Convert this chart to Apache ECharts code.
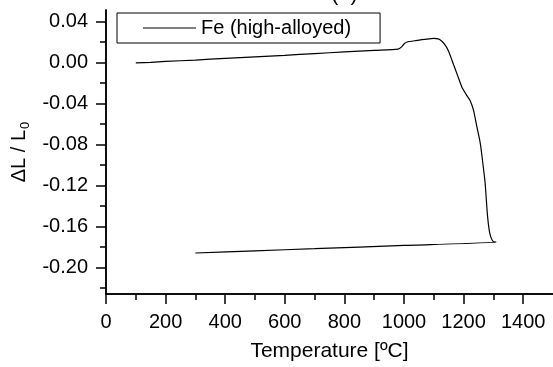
<!DOCTYPE html>
<html>
<head>
<meta charset="utf-8">
<script src="https://cdn.jsdelivr.net/npm/echarts@6/dist/echarts.min.js"></script>
<style>
  html, body { margin: 0; padding: 0; background: #fff; }
  #chart { width: 553px; height: 367px; }
</style>
</head>
<body>
<div id="chart"></div>
<script>
// heating run then cooling run, in drawing order
const tempC = [100, 150, 200, 300, 400, 500, 600, 700, 800, 900, 980,
  992, 1000, 1010, 1040, 1070, 1100, 1115, 1127, 1140, 1150, 1161, 1180, 1194,
  1210, 1222, 1233, 1244, 1256, 1261, 1272, 1280, 1286, 1292, 1300, 1309,
  1000, 700, 500, 300]
const dL = [-0.0005, 0.0000, 0.0008, 0.0022, 0.0038, 0.0053, 0.0068, 0.0085, 0.0101, 0.0117, 0.0128,
  0.0150, 0.0178, 0.0198, 0.0212, 0.0223, 0.0233, 0.0228, 0.0205, 0.0160, 0.0105, 0.0020, -0.0130, -0.0240,
  -0.0320, -0.0375, -0.0465, -0.0620, -0.0790, -0.0900, -0.1170, -0.1490, -0.1640, -0.1710, -0.1750, -0.1754,
  -0.1786, -0.1818, -0.1839, -0.1860]

const xMajor = [0, 200, 400, 600, 800, 1000, 1200, 1400]
const xMinor = [100, 300, 500, 700, 900, 1100, 1300]
const yMajor = [-0.20, -0.16, -0.12, -0.08, -0.04, 0.00, 0.04]
const yMinor = [-0.22, -0.18, -0.14, -0.10, -0.06, -0.02, 0.02]

const FONT = 'Arial, "Liberation Sans", sans-serif'
const BLACK = '#000'

const chart = echarts.init(document.getElementById('chart'), null, { renderer: 'canvas' })

const baseX = {
  type: 'value', min: 0, max: 1500,
  axisLine: { onZero: false, lineStyle: { color: BLACK, width: 1.5 } },
  splitLine: { show: false },
}
const baseY = {
  type: 'value', min: -0.226, max: 0.051,
  axisLine: { onZero: false, lineStyle: { color: BLACK, width: 1.5 } },
  splitLine: { show: false },
}

chart.setOption({
  animation: false,
  backgroundColor: '#fff',
  textStyle: { fontFamily: FONT, color: BLACK },
  graphic: [{
    type: 'text', left: 331, top: -17,
    style: { text: '(a)', font: '22px ' + FONT, fill: BLACK },
  }],
  legend: {
    left: 117, top: 13,
    padding: [5, 29, 5, 26],
    borderColor: BLACK, borderWidth: 1,
    itemWidth: 53, itemHeight: 1.2, itemGap: 0,
    textStyle: { fontSize: 20, color: BLACK, fontFamily: FONT },
    data: [{ name: 'Fe (high-alloyed)', icon: 'rect' }],
  },
  grid: { left: 106, top: 10, width: 449, height: 286, containLabel: false },
  xAxis: [
    {
      ...baseX,
      name: 'Temperature [ºC]', nameLocation: 'middle', nameGap: 47,
      nameTextStyle: { fontSize: 21, color: BLACK, fontFamily: FONT },
      axisTick: { customValues: xMajor, length: 10, lineStyle: { color: BLACK, width: 1.5 } },
      axisLabel: { customValues: xMajor, fontSize: 20, color: BLACK, margin: 18, fontFamily: FONT, formatter: v => String(v) },
    },
    {
      ...baseX, position: 'bottom',
      axisTick: { customValues: xMinor, length: 6, lineStyle: { color: BLACK, width: 1.5 } },
      axisLabel: { show: false },
    },
  ],
  yAxis: [
    {
      ...baseY,
      name: '{a|ΔL / L}{b|0}', nameLocation: 'middle', nameGap: 74, nameRotate: 90,
      nameTextStyle: {
        rich: {
          a: { fontSize: 20, lineHeight: 24, color: BLACK, fontFamily: FONT, verticalAlign: 'middle' },
          b: { fontSize: 13, lineHeight: 24, color: BLACK, fontFamily: FONT, verticalAlign: 'bottom', padding: [8, 0, 0, 1] },
        },
      },
      axisTick: { customValues: yMajor, length: 10, lineStyle: { color: BLACK, width: 1.5 } },
      axisLabel: {
        customValues: yMajor, fontSize: 20, color: BLACK, margin: 18, fontFamily: FONT,
        formatter: v => (Math.abs(v) < 1e-9 ? 0 : v).toFixed(2),
      },
    },
    {
      ...baseY, position: 'left',
      axisTick: { customValues: yMinor, length: 6, lineStyle: { color: BLACK, width: 1.5 } },
      axisLabel: { show: false },
    },
  ],
  series: [{
    name: 'Fe (high-alloyed)',
    type: 'line',
    data: tempC.map((t, i) => [t, dL[i]]),
    showSymbol: false,
    smooth: 0.2,
    lineStyle: { color: BLACK, width: 1.2 },
    itemStyle: { color: BLACK },
  }],
})
</script>
</body>
</html>
